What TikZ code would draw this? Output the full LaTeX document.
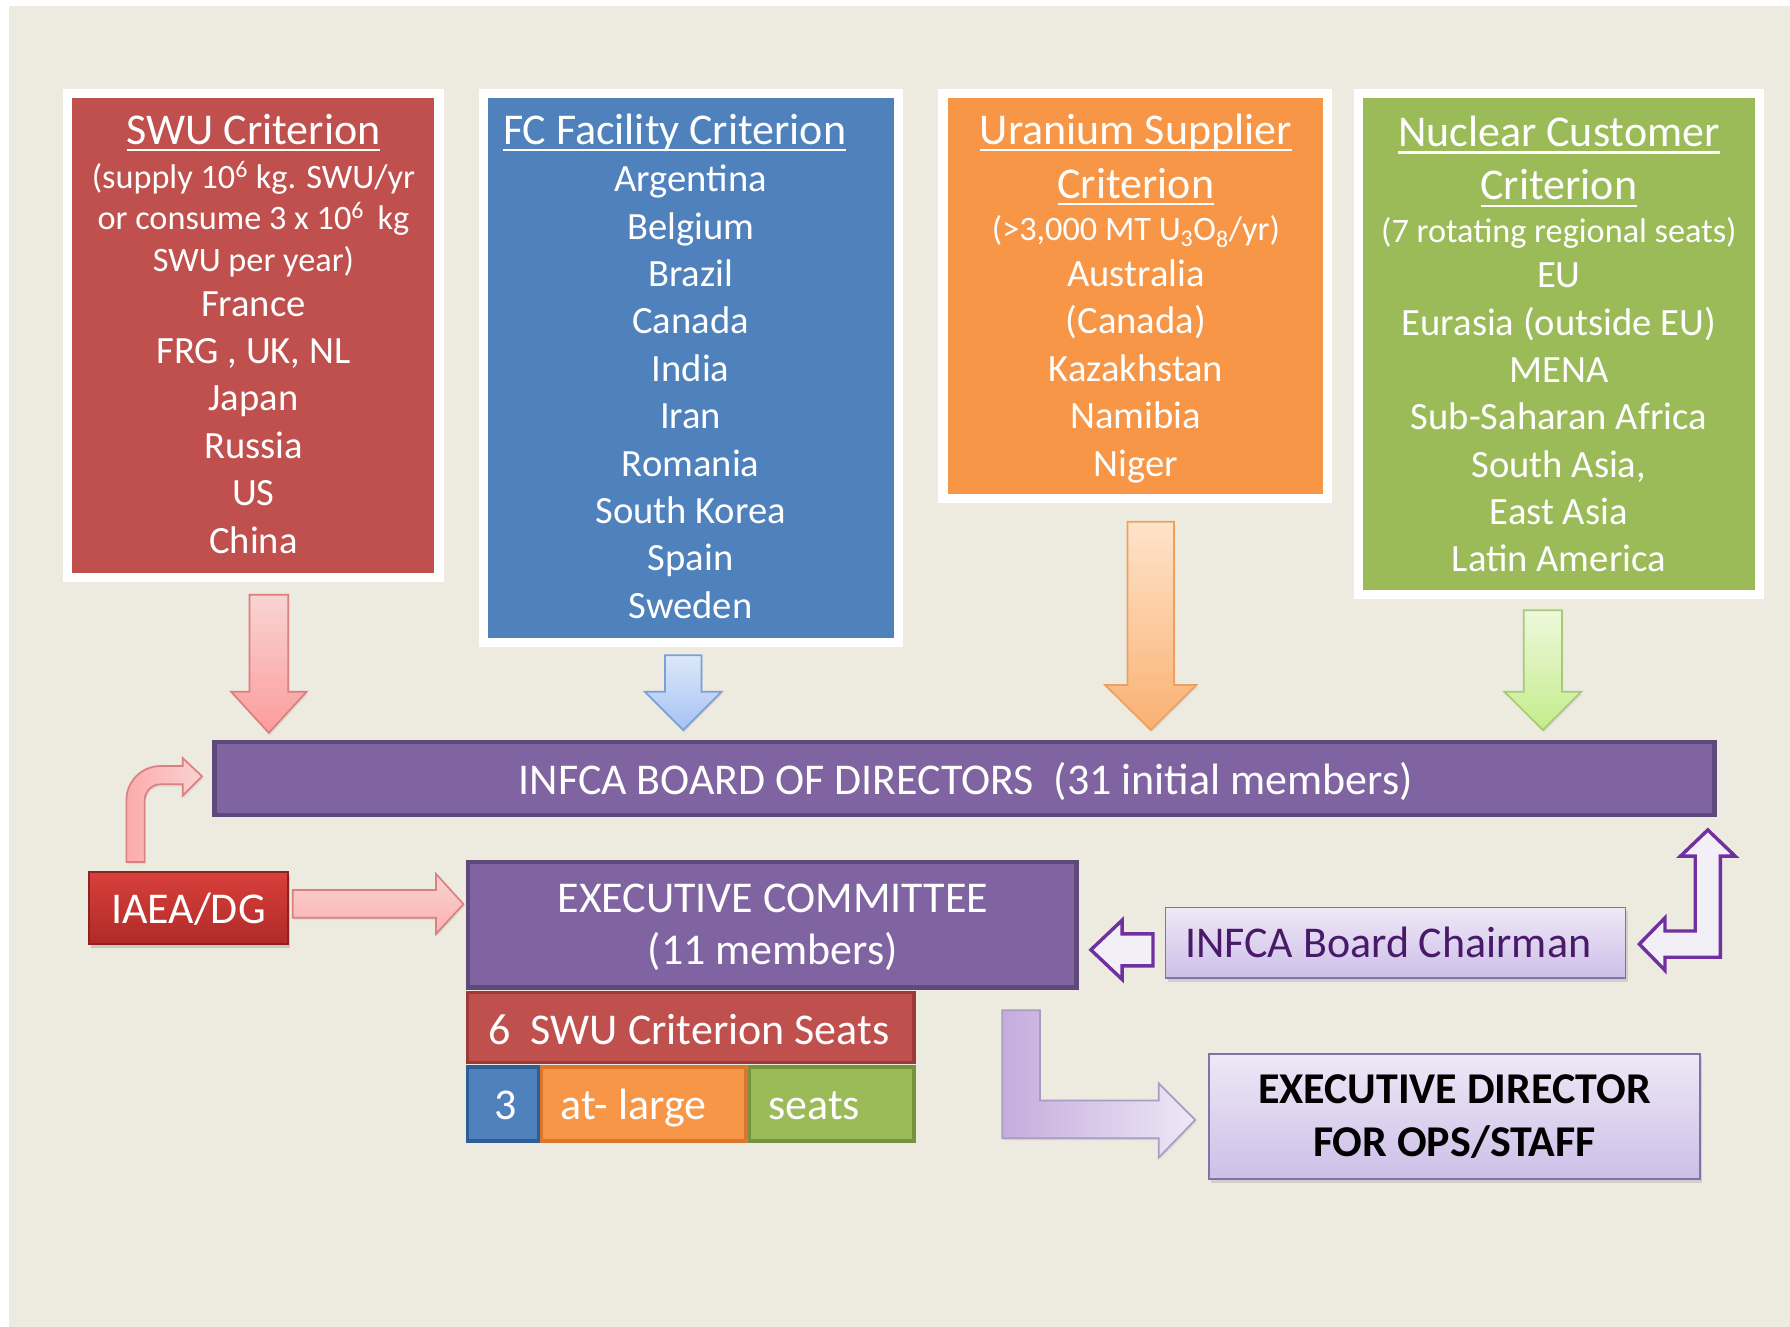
\documentclass[tikz,border=0pt]{standalone}
\usepackage{fontspec}
\setmainfont{Carlito}
\usetikzlibrary{shadows}
\definecolor{bg}{HTML}{EDEAE0}
\definecolor{swuF}{HTML}{C0504D}
\definecolor{fcF}{HTML}{4F81BD}
\definecolor{urF}{HTML}{F79646}
\definecolor{ncF}{HTML}{9BBB59}
\definecolor{boardF}{HTML}{8064A2}
\definecolor{boardD}{HTML}{5F497A}
\definecolor{redD}{HTML}{9C3A37}
\definecolor{blueD}{HTML}{2E5E95}
\definecolor{oranD}{HTML}{D9772F}
\definecolor{greenD}{HTML}{76923C}
\definecolor{iaeaT}{HTML}{D8403C}
\definecolor{iaeaB}{HTML}{B02A27}
\definecolor{iaeaD}{HTML}{8E2220}
\definecolor{hollowD}{HTML}{7030A0}
\definecolor{hollowF}{HTML}{F3EFF7}
\definecolor{lavT}{HTML}{EEE8F7}
\definecolor{lavB}{HTML}{CDBFE7}
\definecolor{lavD}{HTML}{8273A6}
\definecolor{chairT}{HTML}{4A1A6A}
\definecolor{raT}{HTML}{F9D3D3}
\definecolor{raB}{HTML}{FC9C9C}
\definecolor{raD}{HTML}{D98080}
\definecolor{baT}{HTML}{DCE8FA}
\definecolor{baB}{HTML}{A5C2F2}
\definecolor{baD}{HTML}{7E9FD6}
\definecolor{oaT}{HTML}{FEE3CA}
\definecolor{oaB}{HTML}{FAB172}
\definecolor{oaD}{HTML}{EEA060}
\definecolor{gaT}{HTML}{EDF8DB}
\definecolor{gaB}{HTML}{C4EC8C}
\definecolor{gaD}{HTML}{A5CC74}
\newcommand\ftitle{\fontsize{38.5}{47}\selectfont}
\newcommand\fbody{\fontsize{33.8}{41.5}\selectfont}
\newcommand\fsmall{\fontsize{30}{36.5}\selectfont}
\newcommand\myul[1]{\setbox0=\hbox{#1}\rlap{\rule[-6pt]{\wd0}{1.8pt}}\box0}
\newcommand\dnarrow[7]{\draw[#1] ({#2-#3},#4) -- ({#2+#3},#4) -- ({#2+#3},#5) -- ({#2+#6},#5) -- (#2,#7) -- ({#2-#6},#5) -- ({#2-#3},#5) -- cycle;}
\begin{document}
\begin{tikzpicture}[x=1pt,y=-1pt,
  crit/.style={draw=white, line width=8pt, inner sep=0pt, drop shadow={shadow xshift=2pt, shadow yshift=-3pt, opacity=0.25}},
  wt/.style={text=white, inner sep=0pt, anchor=base},
  barrow/.style={line width=1.5pt, drop shadow={shadow xshift=1pt, shadow yshift=-2pt, opacity=0.15}},
  seat/.style={line width=3pt, inner sep=0pt},
  lavbox/.style={draw=lavD, line width=1.5pt, top color=lavT, bottom color=lavB, inner sep=0pt, drop shadow={shadow xshift=2pt, shadow yshift=-3pt, opacity=0.25}},
  hollow/.style={draw=hollowD, fill=hollowF, line width=3pt, line join=miter}
]
\useasboundingbox (0,0) rectangle (1568,1162.4);
\fill[white] (0,0) rectangle (1568,1162.4);
\fill[bg] (8,5) rectangle (1568,1162.4);

% criterion boxes
\node[crit, fill=swuF, minimum width=325.5pt, minimum height=424pt] (swu) at (221.75,294) {};
\node[crit, fill=fcF, minimum width=363.5pt, minimum height=480.5pt] (fc) at (605.25,322.25) {};
\node[crit, fill=urF, minimum width=337pt, minimum height=355pt] (ur) at (994.5,259.5) {};
\node[crit, fill=ncF, minimum width=351pt, minimum height=439pt] (nc) at (1365.5,301.5) {};

% SWU texts
\node[wt, font=\ftitle] (s0) at (222,126.5) {\myul{SWU Criterion}};
\node[wt, font=\fsmall] (s1) at (222,164.7) {(supply 10\textsuperscript{6} kg. SWU/yr};
\node[wt, font=\fsmall] (s2) at (222,200.7) {or consume 3 x 10\textsuperscript{6}\, kg};
\node[wt, font=\fsmall] (s3) at (222,237.7) {SWU per year)};
\foreach \t [count=\i] in {France, {FRG , UK, NL}, Japan, Russia, US, China}
  \node[wt, font=\fbody] (swuL\i) at (222,{277+41.5*(\i-1)}) {\t};

% FC texts
\node[wt, font=\ftitle] (f0) at (591,126.5) {\myul{FC Facility Criterion}};
\foreach \t [count=\i] in {Argentina, Belgium, Brazil, Canada, India, Iran, Romania, South Korea, Spain, Sweden}
  \node[wt, font=\fbody] (fcL\i) at (605,{168+41.5*(\i-1)}) {\t};

% Uranium texts
\node[wt, font=\ftitle] (u0) at (995,126.5) {\myul{Uranium Supplier}};
\node[wt, font=\ftitle] (u1) at (995,173.5) {\myul{Criterion}};
\node[wt, font=\fsmall] (u2) at (995,210.7) {(>3,000 MT U\textsubscript{3}O\textsubscript{8}/yr)};
\foreach \t [count=\i] in {Australia, (Canada), Kazakhstan, Namibia, Niger}
  \node[wt, font=\fbody] (urL\i) at (995,{251+41.5*(\i-1)}) {\t};

% Nuclear customer texts
\node[wt, font=\ftitle] (n0) at (1365.5,128.5) {\myul{Nuclear Customer}};
\node[wt, font=\ftitle] (n1) at (1365.5,175) {\myul{Criterion}};
\node[wt, font=\fsmall] (n2) at (1365.5,212.7) {(7 rotating regional seats)};
\foreach \t [count=\i] in {EU, Eurasia (outside EU), MENA, Sub-Saharan Africa, {South Asia,}, East Asia, Latin America}
  \node[wt, font=\fbody] (ncL\i) at (1365.5,{252+41.5*(\i-1)}) {\t};

% down arrows
\dnarrow{barrow, draw=raD, top color=raT, bottom color=raB}{235.5}{17}{521}{606}{33}{642}
\dnarrow{barrow, draw=baD, top color=baT, bottom color=baB}{598.5}{16}{574}{606}{33.5}{639.5}
\dnarrow{barrow, draw=oaD, top color=oaT, bottom color=oaB}{1008}{20.4}{457}{600}{40}{639.5}
\dnarrow{barrow, draw=gaD, top color=gaT, bottom color=gaB}{1351.5}{16.8}{534.5}{606}{33.6}{639.5}

% board
\node[draw=boardD, fill=boardF, line width=4pt, inner sep=0pt, minimum width=1314pt, minimum height=64pt] (board) at (845,682) {};
\node[wt, font=\ftitle] (boardtxt) at (846,696.3) {INFCA BOARD OF DIRECTORS\ \ (31 initial members)};

% executive committee
\node[draw=boardD, fill=boardF, line width=4pt, inner sep=0pt, minimum width=533pt, minimum height=110pt] (exec) at (676.5,810) {};
\node[wt, font=\ftitle] (exec1) at (677,799.3) {EXECUTIVE COMMITTEE};
\node[wt, font=\ftitle] (exec2) at (677,845.3) {(11 members)};

% seats
\node[seat, draw=redD, fill=swuF, minimum width=391pt, minimum height=61pt] (seat6) at (605,900) {};
\node[wt, font=\ftitle, anchor=base west] (seat6t) at (428,915.3) {6\ \ SWU Criterion Seats};
\node[seat, draw=blueD, fill=fcF, minimum width=62pt, minimum height=65pt] (seat3) at (440.5,967) {};
\node[seat, draw=oranD, fill=urF, minimum width=179pt, minimum height=65pt] (seatal) at (564,967) {};
\node[seat, draw=greenD, fill=ncF, minimum width=144pt, minimum height=65pt] (seatst) at (728.5,967) {};
\node[wt, font=\ftitle] (seat3t) at (443,980.3) {3};
\node[wt, font=\ftitle, anchor=base west] (seatalt) at (491,980.3) {at- large};
\node[wt, font=\ftitle, anchor=base west] (seatstt) at (673,980.3) {seats};

% IAEA/DG
\node[draw=iaeaD, line width=2pt, top color=iaeaT, bottom color=iaeaB, inner sep=0pt, minimum width=174pt, minimum height=63pt, drop shadow={shadow xshift=2pt, shadow yshift=-3pt, opacity=0.3}] (iaea) at (165,795.5) {};
\node[wt, font=\ftitle] (iaeat) at (165,809.3) {IAEA/DG};

% IAEA arrows
\draw[barrow, draw=raD, top color=raT, bottom color=raB!80!white]
  (256.5,779.6) -- (382,779.6) -- (382,765.6) -- (406,792) -- (382,818) -- (382,804) -- (256.5,804) -- cycle;
\draw[barrow, draw=raD, left color=raB!85!white, right color=raT]
  (110.7,755) -- (110.7,701) .. controls (110.7,684.4) and (124.1,671) .. (140.7,671) -- (160,671) -- (160,664) -- (177,680) -- (160,697) -- (160,687) -- (140.7,687) .. controls (133,687) and (126.7,693.3) .. (126.7,701) -- (126.7,755) -- cycle;

% chairman
\node[lavbox, minimum width=403pt, minimum height=62pt] (chair) at (1222.5,826) {};
\node[inner sep=0pt, anchor=base, text=chairT, font=\ftitle] (chairt) at (1216,838.3) {INFCA Board Chairman};
\draw[hollow] (1010,818) -- (983,818) -- (983,806) -- (955.6,832) -- (983,858) -- (983,846) -- (1010,846) -- cycle;
\draw[hollow] (1436,827) -- (1458.5,804) -- (1458.5,815.5) -- (1485,815.5) -- (1485,750) -- (1472,750) -- (1496,727) -- (1520,750) -- (1507,750) -- (1507,838.5) -- (1458.5,838.5) -- (1458.5,850) -- cycle;

% executive director
\node[lavbox, minimum width=430pt, minimum height=110pt] (edir) at (1274,978) {};
\node[inner sep=0pt, anchor=base, font=\ftitle\bfseries] (edir1) at (1274,967) {EXECUTIVE DIRECTOR};
\node[inner sep=0pt, anchor=base, font=\ftitle\bfseries] (edir2) at (1274,1013) {FOR OPS/STAFF};
\draw[barrow, draw=lavD!70!white, left color=lavB!90!violet, right color=lavT]
  (878,885) -- (911,885) -- (911,964) -- (1015,964) -- (1015,949) -- (1047,981) -- (1015,1014) -- (1015,997) -- (878,997) -- cycle;
\end{tikzpicture}
\end{document}
